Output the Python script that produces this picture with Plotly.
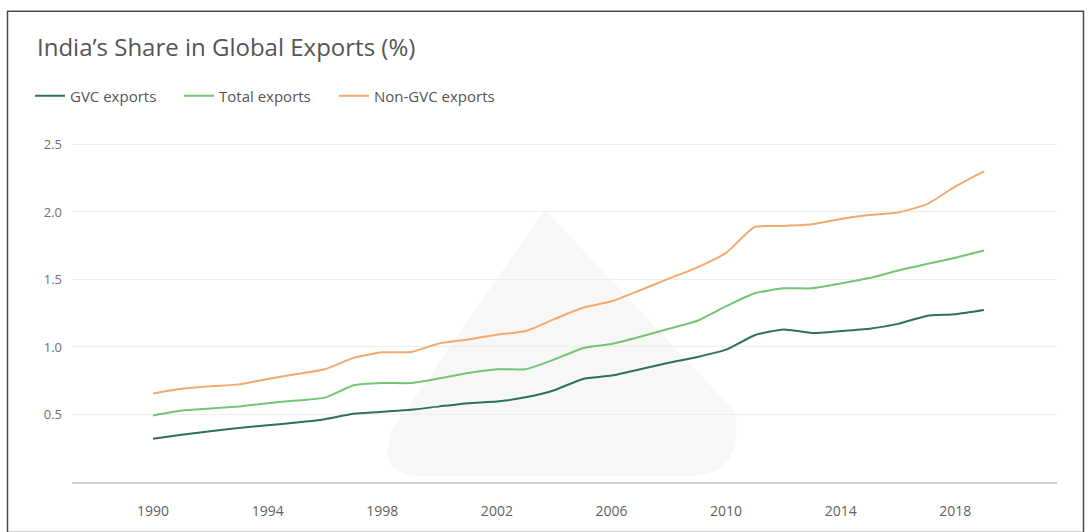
import plotly.graph_objects as go

years = list(range(1990, 2020))

gvc_exports = [0.32, 0.35, 0.376, 0.40, 0.421, 0.44, 0.465, 0.505, 0.52, 0.535,
               0.56, 0.584, 0.596, 0.627, 0.68, 0.763, 0.788, 0.835, 0.883, 0.926,
               0.98, 1.087, 1.13, 1.104, 1.118, 1.135, 1.171, 1.23, 1.242, 1.273]

total_exports = [0.493, 0.529, 0.544, 0.56, 0.584, 0.603, 0.625, 0.716, 0.733, 0.733,
                 0.768, 0.807, 0.835, 0.835, 0.907, 0.991, 1.022, 1.075, 1.135, 1.194,
                 1.302, 1.398, 1.434, 1.434, 1.47, 1.51, 1.566, 1.614, 1.661, 1.714]

non_gvc_exports = [0.656, 0.69, 0.709, 0.723, 0.763, 0.80, 0.835, 0.919, 0.96, 0.962,
                   1.027, 1.056, 1.09, 1.118, 1.206, 1.29, 1.338, 1.42, 1.506, 1.59,
                   1.697, 1.889, 1.896, 1.908, 1.948, 1.977, 1.996, 2.056, 2.188, 2.30]

x_ticks = [1990, 1994, 1998, 2002, 2006, 2010, 2014, 2018]
y_ticks = [0.5, 1.0, 1.5, 2.0, 2.5]

series = [
    ("GVC exports", gvc_exports, "#2e6f5e", "legend"),
    ("Total exports", total_exports, "#74c476", "legend2"),
    ("Non-GVC exports", non_gvc_exports, "#f4a96c", "legend3"),
]

fig = go.Figure()
for name, vals, color, leg in series:
    fig.add_trace(go.Scatter(
        x=years, y=vals, name=name, mode="lines", legend=leg,
        line=dict(color=color, width=2, shape="spline", smoothing=0.5),
        hoverinfo="x+y+name",
    ))

W, H = 1091, 532
ml, mr, mt, mb = 72, 34, 130, 39
pw = W - ml - mr
ph = H - mt - mb

def px(xp):
    return (xp - ml) / pw

def py(yp):
    return (H - mb - yp) / ph

shapes = [
    # faint watermark
    dict(type="path", xref="paper", yref="paper", layer="below",
         path=(f"M {px(545)},{py(212)} L {px(735)},{py(420)} "
               f"Q {px(745)},{py(485)} {px(690)},{py(487)} "
               f"L {px(420)},{py(487)} Q {px(375)},{py(485)} {px(392)},{py(440)} Z"),
         fillcolor="rgba(235,235,235,0.4)", line=dict(width=0)),
    # outer frame
    dict(type="rect", xref="paper", yref="paper",
         x0=px(7.5), x1=px(1083.5), y0=py(545), y1=py(7.5),
         line=dict(color="#4a4a4a", width=1.5), fillcolor="rgba(0,0,0,0)"),
]

def legend_at(xpix):
    return dict(orientation="h", x=px(xpix), y=py(95), xanchor="left", yanchor="middle",
                font=dict(family="Open Sans", size=15, color="#555555"),
                itemwidth=30, bgcolor="rgba(0,0,0,0)")

fig.update_layout(
    width=W, height=H,
    margin=dict(l=ml, r=mr, t=mt, b=mb),
    paper_bgcolor="white", plot_bgcolor="white",
    font=dict(family="Open Sans", color="#606060", size=12),
    title=dict(text="India’s Share in Global Exports (%)",
               xref="container", yref="container",
               x=37 / W, y=1 - 48 / H, xanchor="left", yanchor="middle",
               font=dict(family="Open Sans", size=24, color="#555555")),
    legend=legend_at(30),
    legend2=legend_at(179),
    legend3=legend_at(334),
    showlegend=True,
    shapes=shapes,
    xaxis=dict(range=[1987.17, 2021.55], tickvals=x_ticks, ticktext=[str(v) for v in x_ticks],
               showgrid=False, zeroline=False, showline=True, linecolor="#d0d0d0", linewidth=2,
               ticks="", ticklabelstandoff=15, tickfont=dict(size=14, color="#606060"),
               fixedrange=True),
    yaxis=dict(range=[0, (H - mb - mt) / 139.25], tickvals=y_ticks,
               ticktext=[f"{v:.1f}" for v in y_ticks],
               showgrid=True, gridcolor="#eeeeee", gridwidth=1, zeroline=False,
               showline=False, ticks="", ticklabelstandoff=9,
               tickfont=dict(size=13, color="#707070"), fixedrange=True),
)

fig.write_html("out.html")
